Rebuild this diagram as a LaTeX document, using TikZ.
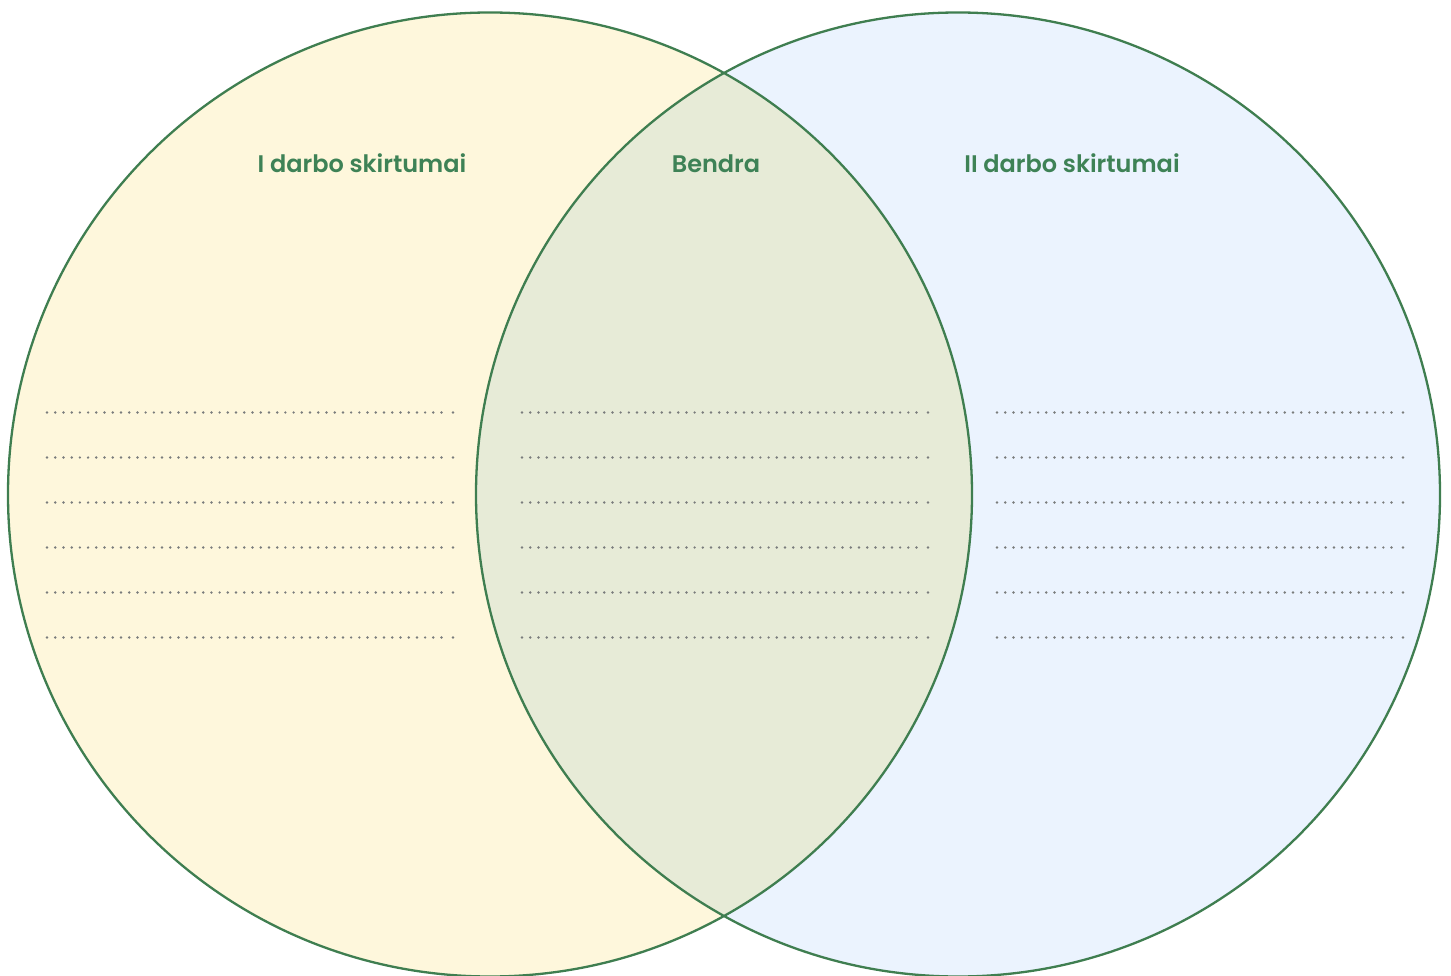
\documentclass[tikz,border=0pt]{standalone}
\usepackage{fontspec}
\setmainfont{Poppins}[BoldFont={Poppins SemiBold}]
\definecolor{ringgreen}{HTML}{3F7E50}
\definecolor{txtgreen}{HTML}{3E8256}
\definecolor{leftfill}{HTML}{FEF7DC}
\definecolor{rightfill}{HTML}{EBF3FE}
\definecolor{midfill}{HTML}{E7EBD7}
\definecolor{dotgrey}{HTML}{7A7C7C}
\tikzset{
  ring/.style={draw=ringgreen, line width=2.3pt},
  heading/.style={text=txtgreen, font=\bfseries\fontsize{24}{28}\selectfont, anchor=base},
  dotmark/.style={fill=dotgrey, draw=none}
}
\begin{document}
\begin{tikzpicture}[x=1pt,y=-1pt]
\useasboundingbox (0,0) rectangle (1451,976);
\coordinate (cl) at (490,494.5);
\coordinate (cr) at (958,494.5);
\fill[leftfill] (cl) circle[radius=482];
\fill[rightfill] (cr) circle[radius=482];
\begin{scope}
  \clip (cl) circle[radius=482];
  \fill[midfill] (cr) circle[radius=482];
\end{scope}
\foreach \x in {47,522,997}{
  \foreach \y in {412.5,457.5,502.5,547.5,592.5,637.5}{
    \foreach \k in {0,...,48}{
      \fill[dotmark] ({\x+\k*8.22},\y) circle[radius=1.35];
    }
    \fill[dotmark] ({\x+406},\y) circle[radius=1.35];
  }
}
\draw[ring] (cl) circle[radius=482];
\draw[ring] (cr) circle[radius=482];
\node[heading] (h1) at (362,172.5) {I darbo skirtumai};
\node[heading] (h2) at (716,172.5) {Bendra};
\node[heading] (h3) at (1072,172.5) {II darbo skirtumai};
\end{tikzpicture}
\end{document}
